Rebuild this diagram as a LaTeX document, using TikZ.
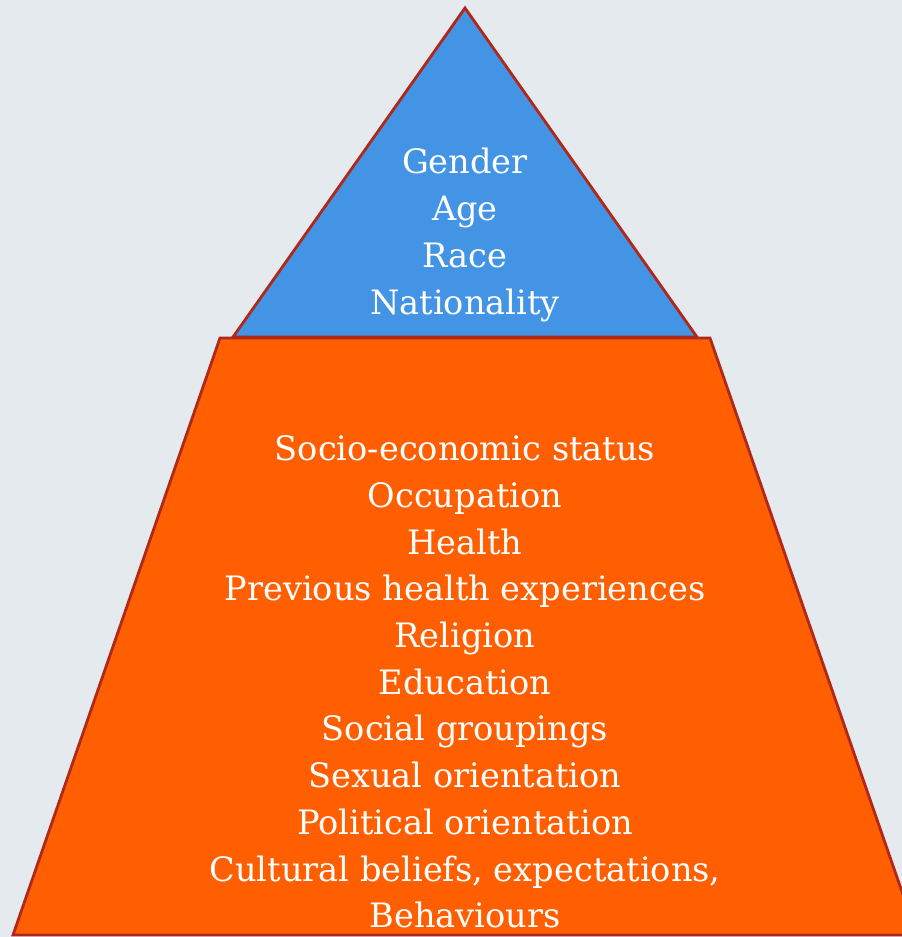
\documentclass[tikz,border=0pt]{standalone}
\usepackage{fontspec}
\setmainfont{DejaVu Serif}
\definecolor{bgpanel}{HTML}{E4EAEE}
\definecolor{topblue}{HTML}{4394E5}
\definecolor{baseorange}{HTML}{FF5F00}
\definecolor{edgered}{HTML}{B0281A}
\tikzset{
  tier/.style={draw=edgered, line width=2.8pt, line join=miter},
  tierlabel/.style={text=white, align=center, inner sep=0pt,
    font=\fontsize{33.6}{46.7}\selectfont}
}
\begin{document}
\begin{tikzpicture}[x=1pt, y=-1pt]
  \useasboundingbox (0,0) rectangle (902,937);
  \fill[bgpanel] (0,0) rectangle (902,937);
  \begin{scope}
    \clip (0,0) rectangle (902,937);
    % top tier: triangle
    \filldraw[tier, fill=topblue] (465,8) -- (697,337) -- (233,337) -- cycle;
    % lower tier: trapezoid
    \filldraw[tier, fill=baseorange] (220,338) -- (710,338) -- (917,935) -- (13,935) -- cycle;
  \end{scope}
  \node[tierlabel] (upper) at (465,235) {Gender\\Age\\Race\\Nationality};
  \node[tierlabel] (lower) at (465,682) {Socio-economic status\\Occupation\\Health\\Previous health experiences\\Religion\\Education\\Social groupings\\Sexual orientation\\Political orientation\\Cultural beliefs, expectations,\\Behaviours};
\end{tikzpicture}
\end{document}
